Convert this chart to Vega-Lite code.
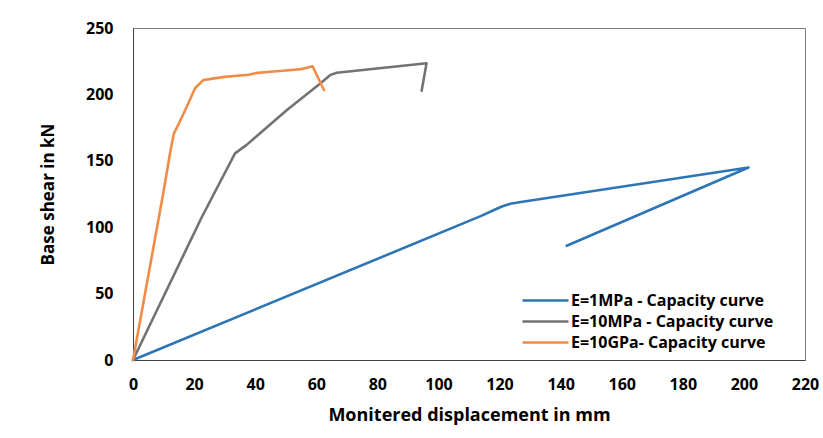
{
  "$schema": "https://vega.github.io/schema/vega-lite/v6.json",
  "autosize": {"type": "none"},
  "width": 672,
  "height": 332,
  "padding": {"left": 133, "top": 28, "right": 18, "bottom": 78},
  "background": "white",
  "config": {
    "view": {"stroke": "#7f7f7f", "strokeWidth": 1},
    "font": "Open Sans"
  },
  "data": {
    "values": [
      {"series": "E=1MPa - Capacity curve", "i": 0, "x": 0, "y": 0},
      {"series": "E=1MPa - Capacity curve", "i": 1, "x": 114, "y": 108.5},
      {"series": "E=1MPa - Capacity curve", "i": 2, "x": 118, "y": 112.8},
      {"series": "E=1MPa - Capacity curve", "i": 3, "x": 121, "y": 115.8},
      {"series": "E=1MPa - Capacity curve", "i": 4, "x": 123.5, "y": 117.6},
      {"series": "E=1MPa - Capacity curve", "i": 5, "x": 127, "y": 119},
      {"series": "E=1MPa - Capacity curve", "i": 6, "x": 201.5, "y": 145},
      {"series": "E=1MPa - Capacity curve", "i": 7, "x": 142, "y": 86},
      {"series": "E=10MPa - Capacity curve", "i": 0, "x": 0, "y": 0},
      {"series": "E=10MPa - Capacity curve", "i": 1, "x": 22.5, "y": 107.5},
      {"series": "E=10MPa - Capacity curve", "i": 2, "x": 33.4, "y": 155.6},
      {"series": "E=10MPa - Capacity curve", "i": 3, "x": 37.2, "y": 162},
      {"series": "E=10MPa - Capacity curve", "i": 4, "x": 50.3, "y": 188},
      {"series": "E=10MPa - Capacity curve", "i": 5, "x": 61.2, "y": 208},
      {"series": "E=10MPa - Capacity curve", "i": 6, "x": 64.5, "y": 214.5},
      {"series": "E=10MPa - Capacity curve", "i": 7, "x": 66.7, "y": 216.3},
      {"series": "E=10MPa - Capacity curve", "i": 8, "x": 96.1, "y": 223.4},
      {"series": "E=10MPa - Capacity curve", "i": 9, "x": 94.5, "y": 202.8},
      {"series": "E=10GPa- Capacity curve", "i": 0, "x": 0, "y": 0},
      {"series": "E=10GPa- Capacity curve", "i": 1, "x": 9.9, "y": 125.5},
      {"series": "E=10GPa- Capacity curve", "i": 2, "x": 12.3, "y": 158},
      {"series": "E=10GPa- Capacity curve", "i": 3, "x": 13.4, "y": 170.7},
      {"series": "E=10GPa- Capacity curve", "i": 4, "x": 14.8, "y": 177},
      {"series": "E=10GPa- Capacity curve", "i": 5, "x": 17.6, "y": 190.7},
      {"series": "E=10GPa- Capacity curve", "i": 6, "x": 20.3, "y": 204.6},
      {"series": "E=10GPa- Capacity curve", "i": 7, "x": 23, "y": 210.8},
      {"series": "E=10GPa- Capacity curve", "i": 8, "x": 25, "y": 211.5},
      {"series": "E=10GPa- Capacity curve", "i": 9, "x": 30, "y": 213.2},
      {"series": "E=10GPa- Capacity curve", "i": 10, "x": 35, "y": 214.2},
      {"series": "E=10GPa- Capacity curve", "i": 11, "x": 38, "y": 214.8},
      {"series": "E=10GPa- Capacity curve", "i": 12, "x": 40, "y": 216},
      {"series": "E=10GPa- Capacity curve", "i": 13, "x": 45, "y": 217},
      {"series": "E=10GPa- Capacity curve", "i": 14, "x": 50, "y": 218},
      {"series": "E=10GPa- Capacity curve", "i": 15, "x": 55, "y": 219},
      {"series": "E=10GPa- Capacity curve", "i": 16, "x": 57.5, "y": 220.5},
      {"series": "E=10GPa- Capacity curve", "i": 17, "x": 58.8, "y": 221.2},
      {"series": "E=10GPa- Capacity curve", "i": 18, "x": 62.5, "y": 203.3}
    ]
  },
  "mark": {"type": "line", "strokeWidth": 2.6, "strokeCap": "round", "strokeJoin": "round"},
  "encoding": {
    "x": {
      "field": "x", "type": "quantitative",
      "scale": {"domain": [0, 220], "nice": false, "zero": true},
      "axis": {
        "values": [0, 20, 40, 60, 80, 100, 120, 140, 160, 180, 200, 220],
        "title": "Monitered displacement in mm",
        "grid": false, "ticks": false, "domain": true, "domainColor": "#404040",
        "labelFont": "Open Sans", "labelFontWeight": "bold", "labelFontSize": 16, "labelColor": "#000000",
        "labelPadding": 16, "labelFlush": false,
        "titleFont": "Open Sans", "titleFontWeight": "bold", "titleFontSize": 18, "titleColor": "#000000",
        "titlePadding": 14
      }
    },
    "y": {
      "field": "y", "type": "quantitative",
      "scale": {"domain": [0, 250], "nice": false},
      "axis": {
        "values": [0, 50, 100, 150, 200, 250],
        "title": "Base shear in kN",
        "grid": false, "ticks": false, "domain": true, "domainColor": "#404040",
        "labelFont": "Open Sans", "labelFontWeight": "bold", "labelFontSize": 16, "labelColor": "#000000",
        "labelPadding": 20, "labelFlush": false,
        "titleFont": "Open Sans", "titleFontWeight": "bold", "titleFontSize": 17, "titleColor": "#000000",
        "titlePadding": 28
      }
    },
    "color": {
      "field": "series", "type": "nominal",
      "scale": {
        "domain": ["E=1MPa - Capacity curve", "E=10MPa - Capacity curve", "E=10GPa- Capacity curve"],
        "range": ["#2E75B6", "#737373", "#F08C46"]
      },
      "legend": {
        "orient": "none", "legendX": 401, "legendY": 261,
        "title": null, "padding": 0,
        "symbolType": "M-2.3,0H2.3", "symbolSize": 400, "symbolStrokeWidth": 2.6,
        "labelFont": "Open Sans", "labelFontWeight": "bold", "labelFontSize": 16, "labelColor": "#000000",
        "labelOffset": 14, "rowPadding": 1, "labelLimit": 400
      }
    },
    "order": {"field": "i", "type": "quantitative"}
  }
}
